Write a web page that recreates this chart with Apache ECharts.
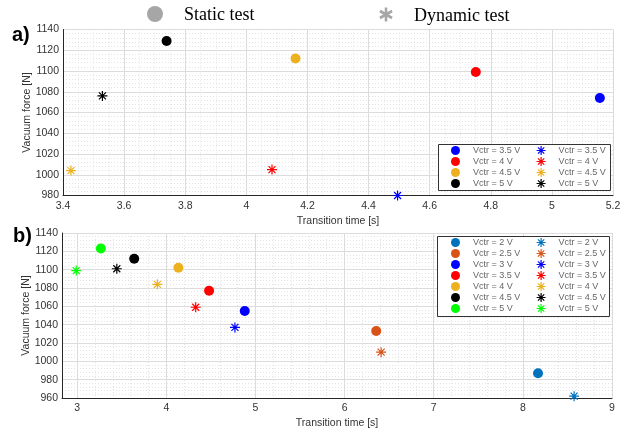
<!DOCTYPE html>
<html>
<head>
<meta charset="utf-8">
<script src="https://cdn.jsdelivr.net/npm/echarts@6/dist/echarts.min.js"></script>
<style>html,body{margin:0;padding:0;background:#fff;}#c{width:624px;height:430px;}</style>
</head>
<body>
<div id="c"></div>
<script>
// ---- Panel a) ----
const topVoltages = ['3.5', '4', '4.5', '5'];
const topColors = ['#0000ff', '#ff0000', '#edb120', '#000000'];
const topStaticTime = [5.157, 4.751, 4.161, 3.739];
const topStaticForce = [1074, 1099, 1112, 1129];
const topDynamicTime = [4.495, 4.084, 3.426, 3.529];
const topDynamicForce = [980, 1005, 1004, 1076];

// ---- Panel b) ----
const botVoltages = ['2', '2.5', '3', '3.5', '4', '4.5', '5'];
const botColors = ['#0072bd', '#d95319', '#0000ff', '#ff0000', '#edb120', '#000000', '#00ff00'];
const botStaticTime = [8.17, 6.355, 4.88, 4.48, 4.136, 3.64, 3.266];
const botStaticForce = [987, 1033, 1055, 1077, 1102, 1112, 1123];
const botDynamicTime = [8.575, 6.41, 4.77, 4.33, 3.90, 3.445, 2.99];
const botDynamicForce = [962, 1010, 1037, 1059, 1084, 1101, 1099];

const STAR = 'path://M5,0L5,10M0,5L10,5M1.5,1.5L8.5,8.5M8.5,1.5L1.5,8.5';
const labelMap = {};
const series = [];
const legendCircA = [], legendStarA = [], legendCircB = [], legendStarB = [];

function addPanel(idx, volts, colors, sT, sF, dT, dF, legC, legS) {
  volts.forEach((v, i) => {
    const nC = 'p' + idx + 'c' + v, nS = 'p' + idx + 's' + v;
    labelMap[nC] = 'Vctr = ' + v + ' V';
    labelMap[nS] = 'Vctr = ' + v + ' V';
    series.push({
      type: 'scatter', name: nC, xAxisIndex: idx, yAxisIndex: idx, clip: false,
      symbol: 'circle', symbolSize: 10,
      itemStyle: {color: colors[i], opacity: 1},
      data: [[sT[i], sF[i]]]
    });
    series.push({
      type: 'scatter', name: nS, xAxisIndex: idx, yAxisIndex: idx, clip: false,
      symbol: STAR, symbolSize: 10, symbolKeepAspect: true,
      itemStyle: {color: 'transparent', borderColor: colors[i], borderWidth: 1.2, opacity: 1},
      data: [[dT[i], dF[i]]]
    });
    legC.push({name: nC, icon: 'circle', itemStyle: {color: colors[i]}});
    legS.push({name: nS, icon: STAR, itemStyle: {color: 'transparent', borderColor: colors[i], borderWidth: 1.2}});
  });
}
addPanel(0, topVoltages, topColors, topStaticTime, topStaticForce, topDynamicTime, topDynamicForce, legendCircA, legendStarA);
addPanel(1, botVoltages, botColors, botStaticTime, botStaticForce, botDynamicTime, botDynamicForce, legendCircB, legendStarB);

const axisTxt = {color: '#333', fontSize: 10.5, fontFamily: 'Liberation Sans'};
const majorLine = {show: true, lineStyle: {color: '#dcdcdc', width: 1}};
const minorLine = {show: true, lineStyle: {color: '#e4e4e4', width: 1, type: [1, 2]}};
const axLine = {show: true, onZero: false, lineStyle: {color: '#262626', width: 1}};
const plain = v => String(Math.round(v * 100) / 100);

function xAx(grid, extra) {
  return Object.assign({
    type: 'value', gridIndex: grid, name: 'Transition time [s]', nameLocation: 'middle', nameGap: 20,
    nameTextStyle: axisTxt, axisLine: axLine, axisTick: {show: false},
    axisLabel: Object.assign({margin: 5, formatter: plain}, axisTxt),
    splitLine: majorLine, minorSplitLine: minorLine
  }, extra);
}
function yAx(grid, extra) {
  return Object.assign({
    type: 'value', gridIndex: grid, name: 'Vacuum force [N]', nameLocation: 'middle', nameGap: 30,
    nameMoveOverlap: false,
    nameTextStyle: axisTxt, axisLine: axLine, axisTick: {show: false},
    axisLabel: Object.assign({margin: 4, formatter: plain}, axisTxt),
    splitLine: majorLine, minorSplitLine: minorLine
  }, extra);
}

function legend(data, left, top) {
  return {
    orient: 'vertical', left: left, top: top, data: data, selectedMode: false, z: 10,
    itemWidth: 25, itemHeight: 9, itemGap: 0, padding: 0,
    formatter: n => labelMap[n],
    textStyle: {color: '#666', fontSize: 9, fontFamily: 'Liberation Sans', lineHeight: 11}
  };
}

function asterisk(cx, cy, r, color, w) {
  const dx = r * 0.866, dy = r * 0.5;
  return [[0, -r, 0, r], [-dx, -dy, dx, dy], [dx, -dy, -dx, dy]].map(s => ({
    type: 'line', shape: {x1: cx + s[0], y1: cy + s[1], x2: cx + s[2], y2: cy + s[3]},
    style: {stroke: color, lineWidth: w}
  }));
}

const chart = echarts.init(document.getElementById('c'), null, {renderer: 'canvas'});
chart.setOption({
  animation: false,
  backgroundColor: '#fff',
  grid: [
    {left: 63, right: 11, top: 29.5, height: 166},
    {left: 62, right: 12, top: 233, height: 166}
  ],
  xAxis: [
    xAx(0, {min: 3.4, max: 5.2, interval: 0.2, minorTick: {show: false, splitNumber: 4}}),
    xAx(1, {min: 2.83, max: 9, minorTick: {show: false, splitNumber: 5}, axisLabel: Object.assign({margin: 5, showMinLabel: false, formatter: plain}, axisTxt)})
  ],
  yAxis: [
    yAx(0, {min: 980, max: 1140, interval: 20, minorTick: {show: false, splitNumber: 5}}),
    yAx(1, {min: 960, max: 1140, interval: 20, minorTick: {show: false, splitNumber: 5}})
  ],
  legend: [
    legend(legendCircA, 451, 145),
    legend(legendStarA, 536, 145),
    legend(legendCircB, 451, 237),
    legend(legendStarB, 536, 237)
  ],
  title: [
    {text: 'a)', left: 12, top: 25, padding: 0, textStyle: {fontSize: 20, fontWeight: 'bold', color: '#000', fontFamily: 'Liberation Sans'}},
    {text: 'b)', left: 13, top: 226, padding: 0, textStyle: {fontSize: 20, fontWeight: 'bold', color: '#000', fontFamily: 'Liberation Sans'}}
  ],
  graphic: [
    {type: 'rect', z: 5, shape: {x: 438.5, y: 144.5, width: 172, height: 46}, style: {fill: '#fff', stroke: '#333', lineWidth: 1}},
    {type: 'rect', z: 5, shape: {x: 437.5, y: 236.5, width: 172, height: 80}, style: {fill: '#fff', stroke: '#333', lineWidth: 1}},
    {type: 'circle', shape: {cx: 155, cy: 14, r: 8}, style: {fill: '#a6a6a6'}},
    {type: 'text', x: 184, y: 6, style: {text: 'Static test', fontSize: 18, fontFamily: 'Liberation Serif', fill: '#000'}},
    {type: 'text', x: 414, y: 7, style: {text: 'Dynamic test', fontSize: 18, fontFamily: 'Liberation Serif', fill: '#000'}}
  ].concat(asterisk(386, 14.5, 7, '#a6a6a6', 2.6)),
  series: series
});
</script>
</body>
</html>
